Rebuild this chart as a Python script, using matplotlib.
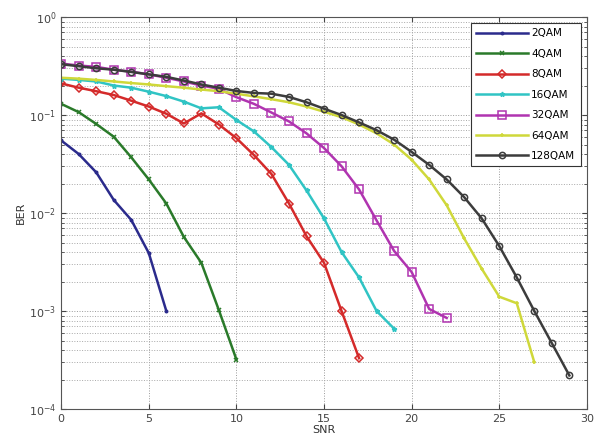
import numpy as np
import matplotlib
matplotlib.use("Agg")
import matplotlib.pyplot as plt
from matplotlib.ticker import LogLocator, NullFormatter, FixedLocator

# BER readings per scheme (SNR starts at 0, step 1)
ber_2qam = [0.055, 0.040, 0.026, 0.0136, 0.0085, 0.0039, 0.0010]
ber_4qam = [0.13, 0.107, 0.081, 0.06, 0.037, 0.022, 0.0125, 0.0057, 0.0031, 0.00102, 0.00032]
ber_8qam = [0.21, 0.19, 0.175, 0.16, 0.14, 0.122, 0.103, 0.082, 0.104, 0.08, 0.058,
            0.039, 0.025, 0.0125, 0.0058, 0.0031, 0.0010, 0.00033]
ber_16qam = [0.235, 0.228, 0.22, 0.2, 0.19, 0.173, 0.156, 0.137, 0.117, 0.12, 0.089,
             0.068, 0.047, 0.031, 0.017, 0.0088, 0.004, 0.0022, 0.0010, 0.00066]
ber_32qam = [0.335, 0.32, 0.31, 0.29, 0.277, 0.26, 0.24, 0.22, 0.2, 0.185, 0.152,
             0.13, 0.106, 0.086, 0.065, 0.046, 0.03, 0.0174, 0.0084, 0.0041, 0.0025,
             0.00105, 0.00085]
ber_64qam = [0.24, 0.235, 0.228, 0.22, 0.212, 0.205, 0.197, 0.19, 0.182, 0.175, 0.165,
             0.155, 0.145, 0.135, 0.122, 0.108, 0.095, 0.08, 0.065, 0.05, 0.035,
             0.022, 0.012, 0.0055, 0.0027, 0.0014, 0.0012, 0.0003]
ber_128qam = [0.33, 0.315, 0.30, 0.29, 0.275, 0.26, 0.245, 0.225, 0.205, 0.19, 0.176,
              0.168, 0.165, 0.153, 0.135, 0.116, 0.10, 0.084, 0.07, 0.056, 0.042,
              0.031, 0.022, 0.0145, 0.0088, 0.0046, 0.0022, 0.0010, 0.00047, 0.00022]

labels = ['2QAM', '4QAM', '8QAM', '16QAM', '32QAM', '64QAM', '128QAM']
series = [ber_2qam, ber_4qam, ber_8qam, ber_16qam, ber_32qam, ber_64qam, ber_128qam]
colors = ['#2b2b8c', '#2a7a2a', '#d42a2a', '#30c4c4', '#b034b0', '#cfd83a', '#3c3c3c']
markers = ['.', 'x', 'D', '*', 's', '+', 'o']
msizes = [3.5, 3.5, 4, 3.5, 5.5, 3.5, 4.5]

plt.rcParams['font.family'] = 'DejaVu Sans'
fig = plt.figure(figsize=(5.94, 4.48), dpi=100)
ax = fig.add_axes([0.103, 0.087, 0.885, 0.875])

for y, lab, c, m, ms in zip(series, labels, colors, markers, msizes):
    x = np.arange(len(y))
    ax.semilogy(x, y, color=c, marker=m, markersize=ms, linewidth=1.8,
                markerfacecolor='none' if m in ('s', 'o', 'D') else c,
                markeredgewidth=1.1, label=lab)

ax.set_xlim(0, 30)
ax.set_ylim(1e-4, 1)
ax.xaxis.set_major_locator(FixedLocator([0, 5, 10, 15, 20, 25, 30]))
ax.yaxis.set_major_locator(LogLocator(base=10, numticks=10))
ax.yaxis.set_minor_locator(LogLocator(base=10, subs=np.arange(2, 10), numticks=10))
ax.yaxis.set_minor_formatter(NullFormatter())

ax.grid(True, which='major', linestyle=':', color='#9a9a9a', linewidth=0.7)
ax.grid(True, which='minor', axis='y', linestyle=':', color='#a8a8a8', linewidth=0.7)
ax.tick_params(which='both', direction='in', top=True, right=True, labelsize=8, colors='#444444')
ax.tick_params(which='minor', length=2)
for s in ax.spines.values():
    s.set_color('#555555')

ax.set_xlabel('SNR', fontsize=8, labelpad=1, color='#333333')
ax.set_ylabel('BER', fontsize=8, labelpad=2, color='#333333')

leg = ax.legend(loc='upper right', fontsize=7.5, fancybox=False, framealpha=1,
                edgecolor='#333333', handlelength=5.0, borderpad=0.5, labelspacing=1.0,
                handletextpad=0.3, borderaxespad=0.6)
leg.get_frame().set_linewidth(0.8)

fig.savefig('out.png', dpi=100)
